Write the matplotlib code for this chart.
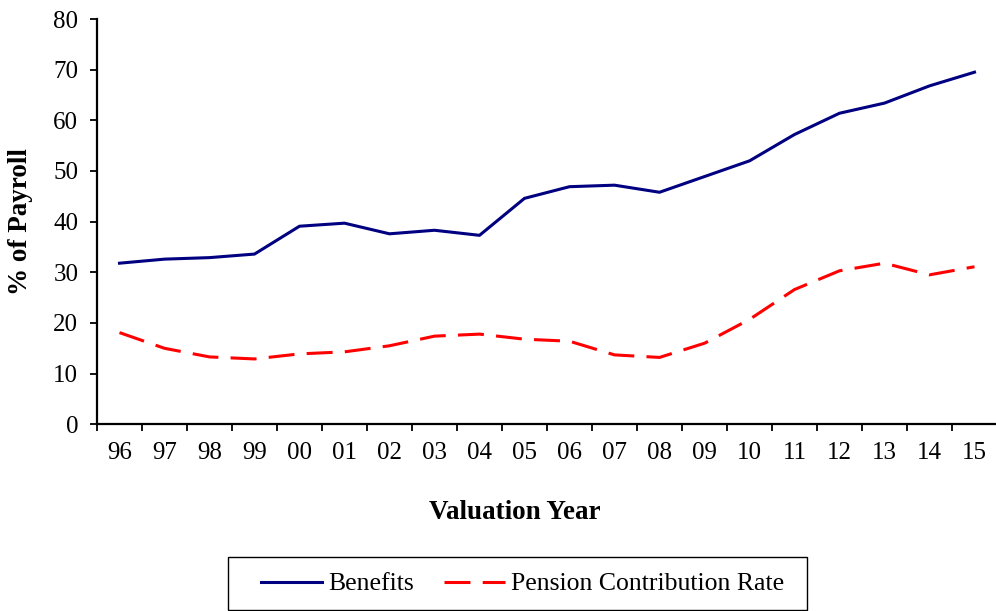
import matplotlib
matplotlib.use("Agg")
import matplotlib.pyplot as plt
import matplotlib.patches as mpatches
import numpy as np

# valuation years and series (% of payroll)
years = ["96", "97", "98", "99", "00", "01", "02", "03", "04", "05",
         "06", "07", "08", "09", "10", "11", "12", "13", "14", "15"]
benefits = [31.8, 32.6, 32.9, 33.6, 39.1, 39.7, 37.6, 38.3, 37.3, 44.6,
            46.9, 47.2, 45.8, 48.9, 52.0, 57.2, 61.4, 63.4, 66.8, 69.5]
pension_rate = [18.1, 15.0, 13.3, 12.9, 13.9, 14.3, 15.5, 17.4, 17.8, 16.8,
                16.4, 13.7, 13.2, 16.0, 20.7, 26.6, 30.3, 31.8, 29.5, 31.1]

plt.rcParams['font.family'] = ['Liberation Serif', 'DejaVu Serif']

W, H = 996.0, 611.0
fig = plt.figure(figsize=(W / 100, H / 100), dpi=100)
ax = fig.add_axes([97 / W, 1 - 424.3 / H, 900 / W, 405.3 / H])

x = np.arange(len(years))
ax.plot(x, benefits, color='#000080', lw=2.2, label='Benefits')
ax.plot(x, pension_rate, color='#ff0000', lw=2.2, dashes=(8.5, 4),
        label='Pension Contribution Rate')

ax.set_xlim(-0.5, len(years) - 0.5)
ax.set_ylim(0, 80)
ax.set_yticks(np.arange(0, 81, 10))
ax.set_xticks(x)
ax.set_xticklabels(years)
ax.set_xticks(np.arange(-0.5, len(years), 1.0), minor=True)
ax.tick_params(axis='x', which='major', length=0, pad=12.5, labelsize=18)
ax.tick_params(axis='x', which='minor', length=5, width=1.3, direction='out')
ax.tick_params(axis='y', length=5, width=1.3, direction='out', pad=8.5, labelsize=18)

for s in ['top', 'right']:
    ax.spines[s].set_visible(False)
for s in ['left', 'bottom']:
    ax.spines[s].set_linewidth(1.6)

# axis titles
fig.text(21 / W, 1 - 222 / H, '% of Payroll', fontsize=19.5, fontweight='bold',
         rotation=90, ha='center', va='center')
fig.text(515 / W, 1 - 519 / H, 'Valuation Year', fontsize=19.5, fontweight='bold',
         ha='center', va='baseline')

# legend box drawn separately so its padding matches
frame = mpatches.Rectangle((228 / W, 1 - 610 / H), 579 / W, 53 / H,
                           transform=fig.transFigure, fill=False,
                           edgecolor='black', lw=1.0)
fig.patches.append(frame)
fig.legend(loc='center left', bbox_to_anchor=(261 / W, 1 - 584 / H), ncol=2,
           fontsize=18.5, frameon=False, borderpad=0, borderaxespad=0,
           handlelength=2.37, columnspacing=1.2, handletextpad=0.23)

fig.savefig('out.png', dpi=100)
